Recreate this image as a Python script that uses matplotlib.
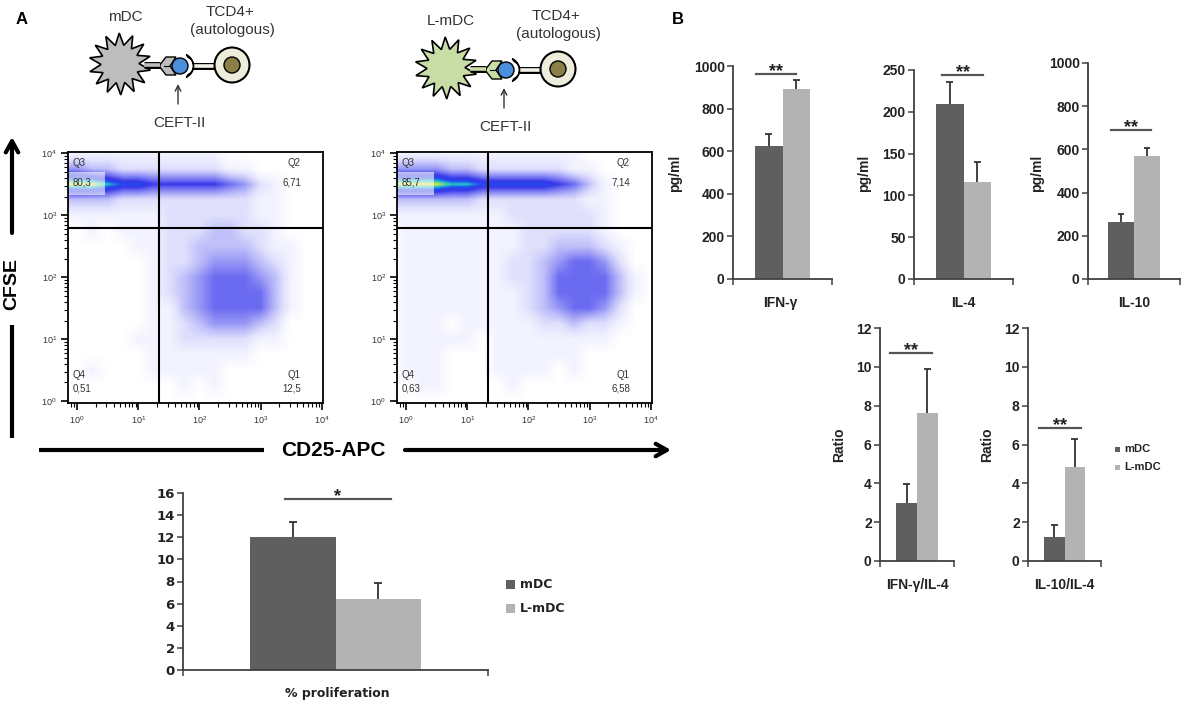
import numpy as np
import matplotlib
matplotlib.use("Agg")
import matplotlib.pyplot as plt
from matplotlib.colors import LinearSegmentedColormap
from matplotlib.patches import Polygon, Circle, Rectangle

plt.rcParams['font.family'] = ['Liberation Sans', 'DejaVu Sans']
plt.rcParams['mathtext.default'] = 'regular'

W, H = 1196, 703

# ---------------- data ----------------
groups = ['mDC', 'L-mDC']

prolif_mean = [12.0, 6.4]
prolif_err = [1.4, 1.5]

ifng_mean = [624, 892]
ifng_err = [56, 40]
il4_mean = [209, 116]
il4_err = [27, 24]
il10_mean = [265, 569]
il10_err = [36, 38]
ifng_il4_mean = [3.0, 7.6]
ifng_il4_err = [0.97, 2.3]
il10_il4_mean = [1.24, 4.84]
il10_il4_err = [0.61, 1.44]

quad_names = ['Q3', 'Q2', 'Q4', 'Q1']
quad_mdc = ['80,3', '6,71', '0,51', '12,5']
quad_lmdc = ['85,7', '7,14', '0,63', '6,58']
gate_cd25 = 22      # CD25-APC gate
gate_cfse = 620     # CFSE gate

# event density (0 = empty ... 9 = densest)
# rows: log10 CFSE 4.0 -> 0.0 in 0.25 steps, cols: log10 CD25 -0.25 -> 4.0
dens_mdc = [
    "011111111110000000",
    "443322222221100000",
    "999877666665421000",
    "333322222222211000",
    "111111122222211000",
    "001011122233221000",
    "000001122333321100",
    "000000122344432100",
    "000000123455543100",
    "000000123455553100",
    "000000113455553100",
    "000000112344432000",
    "000001112222211000",
    "000000111111100000",
    "001000111110000000",
    "000000001010000000",
    "000000000000000000",
]
dens_lmdc = [
    "011111111111100000",
    "444433222222110000",
    "999988777776531000",
    "333333222222211000",
    "111111112222221000",
    "011111111222221000",
    "011111111223332100",
    "011111112234554200",
    "011111112235555310",
    "011111111235555310",
    "011111111234554200",
    "011101111122322100",
    "011111011111111000",
    "011100011111100000",
    "011100011110100000",
    "001100001000000000",
    "000000000000000000",
]

c_mdc = '#5f5f5f'
c_lmdc = '#b3b3b3'
txt = '#222222'

fig = plt.figure(figsize=(W / 100, H / 100), dpi=100)
bg = fig.add_axes([0, 0, 1, 1])
bg.set_xlim(0, W)
bg.set_ylim(H, 0)
bg.axis('off')


def ftext(x, y, s, **kw):
    fig.text(x / W, 1 - y / H, s, **kw)


# ---------------- cartoons ----------------
def star(cx, cy, R, r, n):
    ang = np.linspace(0, 2 * np.pi, 2 * n, endpoint=False) + 0.2
    rad = np.where(np.arange(2 * n) % 2 == 0, R, r)
    return np.column_stack([cx + rad * np.cos(ang), cy + rad * np.sin(ang)])


def cartoon(sx, sy, dc_col, label):
    bg.add_patch(Polygon(star(sx, sy, 31, 19, 14), closed=True, fc=dc_col, ec='black', lw=1.2))
    # stub
    bg.plot([sx + 24, sx + 40], [sy + 1, sy + 1], color='black', lw=5, solid_capstyle='butt')
    bg.plot([sx + 24, sx + 40], [sy + 1, sy + 1], color=dc_col, lw=2.6, solid_capstyle='butt')
    # MHC chevron
    bx = sx + 60
    by = sy + 2
    chev = [(sx + 39, by), (sx + 46, by - 9), (sx + 56, by - 9), (sx + 50, by),
            (sx + 56, by + 9), (sx + 46, by + 9)]
    bg.add_patch(Polygon(chev, closed=True, fc=dc_col, ec='black', lw=1))
    bg.plot([sx + 44, sx + 49], [by, by], color='black', lw=0.8)
    # peptide
    bg.add_patch(Circle((bx, by), 8, fc='#4a8fdc', ec='black', lw=1, zorder=3))
    # TCR crescent
    a = np.radians(np.linspace(-65, 65, 30))
    outer = np.column_stack([bx + 1 + 12.5 * np.cos(a), by + 12.5 * np.sin(a)])
    inner = np.column_stack([bx + 4 + 9.5 * np.cos(a[::-1]), by + 9.5 * np.sin(a[::-1])])
    bg.add_patch(Polygon(np.vstack([outer, inner]), closed=True, fc='#f4f3ea', ec='black', lw=1, zorder=3))
    # TCR stalk
    bg.plot([bx + 13, bx + 37], [by, by], color='black', lw=5, solid_capstyle='butt')
    bg.plot([bx + 13, bx + 37], [by, by], color='#f4f3ea', lw=2.6, solid_capstyle='butt')
    # T cell
    tx = sx + 112
    bg.add_patch(Circle((tx, by - 1), 17.5, fc='#eeeddc', ec='black', lw=1.5, zorder=3))
    bg.add_patch(Circle((tx, by - 1), 8, fc='#8b7f48', ec='black', lw=1, zorder=4))
    # arrow + labels
    bg.annotate('', xy=(bx - 2, sy + 20), xytext=(bx - 2, sy + 40),
                arrowprops=dict(arrowstyle='->', lw=1, color='#333333', shrinkA=0, shrinkB=0))
    bg.text(bx - 1, sy + 59, 'CEFT-II', ha='center', va='center', fontsize=11, color='#333333')
    bg.text(sx + 5, sy - 47, label, ha='center', va='center', fontsize=11, color='#333333')
    bg.text(tx - 2, sy - 52, 'TCD4+', ha='center', va='center', fontsize=11, color='#333333')
    bg.text(tx, sy - 34, '(autologous)', ha='center', va='center', fontsize=11, color='#333333')


cartoon(120, 64, '#bdbdbd', groups[0])
cartoon(446, 68, '#c8dca6', groups[1])

ftext(22, 20, 'A', fontsize=12, fontweight='bold', ha='center', va='center')
ftext(678, 19, 'B', fontsize=12, fontweight='bold', ha='center', va='center')

# ---------------- flow plots ----------------
flow_cmap = LinearSegmentedColormap.from_list(
    'flow', list(zip(np.linspace(0, 1, 10),
                     ['#ffffff', '#f3f3ff', '#e0e0fd', '#c0c0fa', '#9898f6',
                      '#6c6cf2', '#3a3ae8', '#2448f0', '#22c4c8', '#e8e830'])))


def flow_plot(x0, dens, vals):
    ax = fig.add_axes([x0 / W, 1 - 403 / H, 255 / W, 251 / H])
    grid = np.array([[int(c) for c in row] for row in dens], dtype=float)
    ax.imshow(grid, cmap=flow_cmap, vmin=0, vmax=9, interpolation='bilinear',
              extent=(-0.375, 4.125, -0.125, 4.125), origin='upper', aspect='auto')
    ax.set_xlim(-0.15, 4.02)
    ax.set_ylim(-0.03, 4.02)
    ax.axvline(np.log10(gate_cd25), color='black', lw=1.5)
    ax.axhline(np.log10(gate_cfse), color='black', lw=1.5)
    ax.add_patch(Rectangle((-0.15, 3.33), 0.6, 0.36, fc='white', alpha=0.6, ec='none'))
    dec = np.arange(5)
    ax.set_xticks(dec)
    ax.set_yticks(dec)
    ax.set_xticklabels(['$10^{%d}$' % d for d in dec])
    ax.set_yticklabels(['$10^{%d}$' % d for d in dec])
    minor = [np.log10(m * 10.0 ** d) for d in range(-1, 4) for m in range(2, 10)]
    ax.set_xticks([m for m in minor if -0.15 < m < 4], minor=True)
    ax.set_yticks([m for m in minor if 0 < m < 4], minor=True)
    ax.tick_params(which='major', direction='out', length=5, width=1.2, labelsize=6.5,
                   labelcolor='#333333', pad=3)
    ax.tick_params(which='minor', direction='out', length=3, width=0.8)
    for s in ax.spines.values():
        s.set_linewidth(1.3)
    kw = dict(fontsize=7, color='#333333', va='center')
    ax.text(-0.07, 3.84, quad_names[0], ha='left', **kw)
    ax.text(-0.07, 3.53, vals[0], ha='left', **kw)
    ax.text(3.66, 3.84, quad_names[1], ha='right', **kw)
    ax.text(3.66, 3.53, vals[1], ha='right', **kw)
    ax.text(-0.07, 0.42, quad_names[2], ha='left', **kw)
    ax.text(-0.07, 0.21, vals[2], ha='left', **kw)
    ax.text(3.66, 0.42, quad_names[3], ha='right', **kw)
    ax.text(3.66, 0.21, vals[3], ha='right', **kw)


flow_plot(68, dens_mdc, quad_mdc)
flow_plot(397, dens_lmdc, quad_lmdc)

# axis arrows
bg.annotate('', xy=(12, 137), xytext=(12, 233),
            arrowprops=dict(arrowstyle='->,head_length=0.8,head_width=0.45', lw=3,
                            color='black', shrinkA=0, shrinkB=0))
bg.plot([12, 12], [325, 438], color='black', lw=3, solid_capstyle='butt')
bg.text(12, 284, 'CFSE', rotation=90, ha='center', va='center', fontsize=14, fontweight='bold')
bg.plot([39, 264], [450, 450], color='black', lw=3, solid_capstyle='butt')
bg.text(333, 451, 'CD25-APC', ha='center', va='center', fontsize=15, fontweight='bold')
bg.annotate('', xy=(671, 450), xytext=(405, 450),
            arrowprops=dict(arrowstyle='->,head_length=0.8,head_width=0.45', lw=3,
                            color='black', shrinkA=0, shrinkB=0))


# ---------------- bar charts ----------------
def bar_panel(px, means, errs, ymax, ystep, sig, stars, family, tsize, cap):
    x0, y0, x1, y1 = px
    ax = fig.add_axes([x0 / W, 1 - y0 / H, (x1 - x0) / W, (y0 - y1) / H])
    bw = 0.28
    xs = np.array([0.5 - bw / 2, 0.5 + bw / 2])
    tops = np.add(means, errs)
    ax.bar(xs, means, width=bw, color=[c_mdc, c_lmdc], zorder=2)
    ax.vlines(xs, means, tops, color='#333333', lw=1.3, zorder=3)
    ax.hlines(tops, xs - cap, xs + cap, color='#333333', lw=1.3, zorder=3)
    ax.set_xlim(0, 1)
    ax.set_ylim(0, ymax)
    ax.set_yticks(np.arange(0, ymax + ystep / 2, ystep))
    ax.set_xticks([0, 1])
    ax.set_xticklabels([])
    for side in ['top', 'right']:
        ax.spines[side].set_visible(False)
    for side in ['left', 'bottom']:
        ax.spines[side].set_color('#404040')
        ax.spines[side].set_linewidth(1.3)
    ax.tick_params(direction='out', length=4, width=1.1, color='#404040',
                   labelsize=tsize, labelcolor=txt, pad=2)
    for lbl in ax.get_yticklabels():
        lbl.set_fontweight('bold')
        lbl.set_family(family)
    sx0, sx1, sy = sig
    ax.plot([sx0, sx1], [sy, sy], color='#555555', lw=1.6, clip_on=False)
    ax.annotate(stars, xy=((sx0 + sx1) / 2, sy), xytext=(0, -1.5), textcoords='offset points',
                ha='center', va='baseline', fontsize=13, fontweight='bold', color=txt,
                family='Liberation Sans', annotation_clip=False)
    return ax


bkw = dict(family='Liberation Sans', tsize=10)
bar_panel((733, 279, 832, 66), ifng_mean, ifng_err, 1000, 200, (0.232, 0.636, 962), '**', cap=0.035, **bkw)
bar_panel((914, 279, 1013, 70), il4_mean, il4_err, 250, 50, (0.283, 0.697, 244), '**', cap=0.035, **bkw)
bar_panel((1088, 279, 1180, 63), il10_mean, il10_err, 1000, 200, (0.25, 0.685, 690), '**', cap=0.035, **bkw)
bar_panel((880, 561, 954, 328), ifng_il4_mean, ifng_il4_err, 12, 2, (0.135, 0.703, 10.7), '**', cap=0.045, **bkw)
bar_panel((1028, 561, 1101, 328), il10_il4_mean, il10_il4_err, 12, 2, (0.15, 0.726, 6.85), '**', cap=0.045, **bkw)
bar_panel((183, 670, 488, 493), prolif_mean, prolif_err, 16, 2, (0.334, 0.682, 15.5), '*',
          family='DejaVu Sans', tsize=9.5, cap=0.013)

lab = dict(fontsize=10, fontweight='bold', color=txt, ha='center', va='center', family='Liberation Sans')
for x, y, s in [(780, 303, 'IFN-γ'), (963, 303, 'IL-4'), (1134, 303, 'IL-10'),
                (917, 585, 'IFN-γ/IL-4'), (1064, 585, 'IL-10/IL-4')]:
    ftext(x, y, s, **lab)
for x, y, s in [(675, 173, 'pg/ml'), (864, 173, 'pg/ml'), (1037, 173, 'pg/ml'),
                (839, 445, 'Ratio'), (987, 445, 'Ratio')]:
    ftext(x, y, s, rotation=90, **lab)
ftext(337, 694, '% proliferation', fontsize=9, fontweight='bold', color=txt,
      ha='center', va='center', family='DejaVu Sans')

# legends
for y, name, col in [(449, groups[0], c_mdc), (467, groups[1], c_lmdc)]:
    bg.add_patch(Rectangle((1114.5, y - 2.5), 5, 5, fc=col, ec='none'))
    bg.text(1124, y, name, fontsize=8, fontweight='bold', color=txt, va='center')
for y, name, col in [(584, groups[0], c_mdc), (608, groups[1], c_lmdc)]:
    bg.add_patch(Rectangle((505.5, y - 4.5), 9, 9, fc=col, ec='none'))
    bg.text(520, y, name, fontsize=9, fontweight='bold', color=txt, va='center', family='DejaVu Sans')

fig.savefig('out.png', dpi=100)
